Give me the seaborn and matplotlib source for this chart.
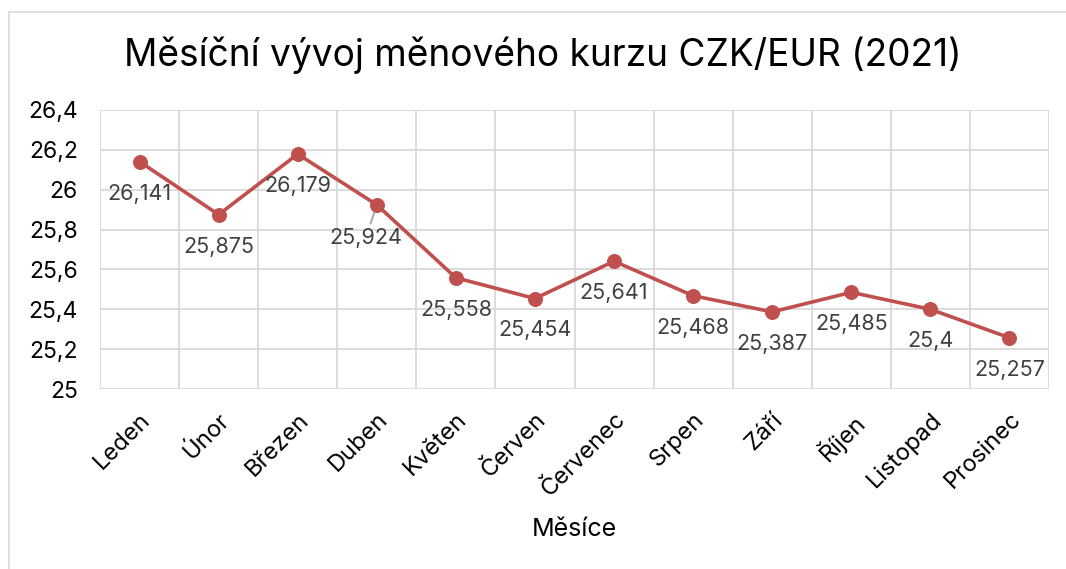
import matplotlib
matplotlib.use("Agg")
import matplotlib.pyplot as plt
from matplotlib.patches import Rectangle
import seaborn as sns
import pandas as pd

months = ["Leden", "Únor", "Březen", "Duben", "Květen", "Červen",
          "Červenec", "Srpen", "Září", "Říjen", "Listopad", "Prosinec"]
rates = [26.141, 25.875, 26.179, 25.924, 25.558, 25.454,
         25.641, 25.468, 25.387, 25.485, 25.4, 25.257]
labels = ["26,141", "25,875", "26,179", "25,924", "25,558", "25,454",
          "25,641", "25,468", "25,387", "25,485", "25,4", "25,257"]
yticks = [25, 25.2, 25.4, 25.6, 25.8, 26, 26.2, 26.4]
ytick_labels = ["25", "25,2", "25,4", "25,6", "25,8", "26", "26,2", "26,4"]

sns.set_theme(style="white")
plt.rcParams['font.family'] = ['Inter', 'DejaVu Sans']

df = pd.DataFrame({"month": months, "rate": rates})
df["pos"] = range(len(months))

W, H = 1066, 569
fig = plt.figure(figsize=(W / 100, H / 100), dpi=100)
fig.patch.set_facecolor("white")
ax = fig.add_axes([100 / W, 1 - 389 / H, (1049 - 100) / W, (389 - 110) / H])

# outer chart border (light gray)
fig.add_artist(Rectangle((9 / W, -0.05), 1.2, 1 - 12 / H + 0.05,
                         transform=fig.transFigure, fill=False,
                         edgecolor="#d9d9d9", linewidth=1.2, zorder=0))

line_color = "#C0504D"
sns.lineplot(data=df, x="pos", y="rate", ax=ax, color=line_color,
             linewidth=2.6, marker="o", markersize=10,
             markeredgecolor=line_color, markerfacecolor=line_color, zorder=5)

n = len(months)
ax.set_xlim(0, n)
ax.set_ylim(25, 26.4)
ax.lines[0].set_xdata([p + 0.5 for p in df["pos"]])

# grid
for b in range(n + 1):
    ax.axvline(b, color="#d9d9d9", linewidth=1.3, zorder=1)
for t in yticks:
    ax.axhline(t, color="#d9d9d9", linewidth=1.3, zorder=1)
for s in ax.spines.values():
    s.set_visible(False)

ax.set_xticks([p + 0.5 for p in range(n)])
ax.set_xticklabels(months, rotation=45, ha="right", rotation_mode="anchor",
                   fontsize=17, color="black")
ax.set_yticks(yticks)
ax.set_yticklabels(ytick_labels, fontsize=16.5, color="black")
ax.tick_params(axis="y", length=0, pad=16)
ax.tick_params(axis="x", length=0, pad=14)

# data labels
for i, (v, lab) in enumerate(zip(rates, labels)):
    if months[i] == "Duben":
        ax.annotate(lab, xy=(i + 0.5, v), xytext=(-8, -24),
                    textcoords="offset points", ha="center", va="center",
                    fontsize=15.5, color="#404040", zorder=4,
                    arrowprops=dict(arrowstyle="-", color="#a6a6a6", lw=1.4,
                                    shrinkA=1, shrinkB=2))
    else:
        ax.annotate(lab, xy=(i + 0.5, v), xytext=(0, -23),
                    textcoords="offset points", ha="center", va="center",
                    fontsize=15.5, color="#404040", zorder=6)

ax.set_xlabel("Měsíce", fontsize=18, color="black", labelpad=12)
ax.set_ylabel("")
fig.text(0.509, 1 - 55 / H, "Měsíční vývoj měnového kurzu CZK/EUR (2021)",
         ha="center", va="center", fontsize=26.7, color="black")

fig.savefig("out.png", dpi=100, facecolor="white")
